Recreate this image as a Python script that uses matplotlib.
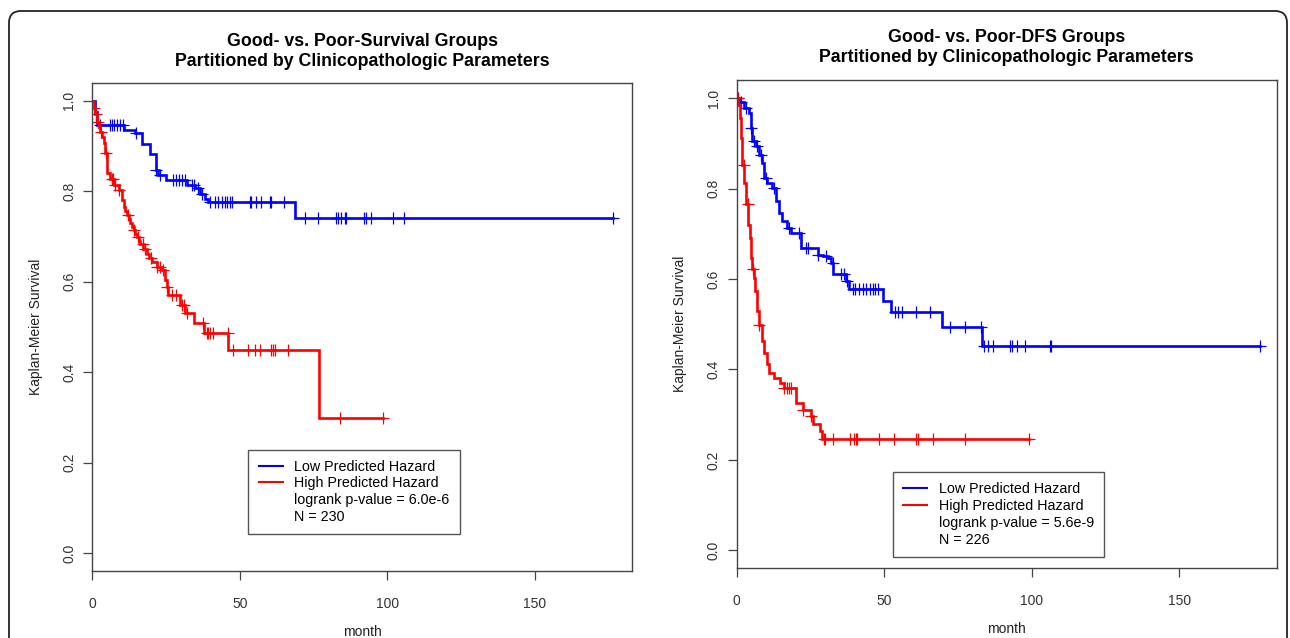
import numpy as np
import matplotlib

matplotlib.use('Agg')
import matplotlib.pyplot as plt
from matplotlib.lines import Line2D
from matplotlib.patches import FancyBboxPatch
from matplotlib.transforms import IdentityTransform

plt.rcParams['font.family'] = ['Liberation Sans', 'DejaVu Sans']

# Overall survival, low predicted hazard
os_low_t = [0.8, 1.5, 10.6, 14.5, 16.8, 19.6, 21.6, 22.4, 25.0, 32.0, 34.8, 36.5, 38.2, 39.3, 68.6]
os_low_s = [0.975, 0.947, 0.936, 0.928, 0.904, 0.882, 0.847, 0.836, 0.826, 0.814, 0.807, 0.795, 0.784, 0.777, 0.740]
os_low_cens = [2.7, 6.1, 6.6, 7.2, 8.3, 9.5, 10.4, 14.8, 21.6, 22.9, 27.4, 28.5, 29.5, 30.5, 31.5, 33.7, 34.5,
               35.8, 37.1, 39.9, 41.6, 42.7, 43.8, 44.9, 45.5, 46.6, 47.2, 53.4, 53.9, 55.6, 57.3, 60.1, 60.7,
               64.9, 72.0, 76.5, 82.7, 83.2, 84.3, 85.5, 86.0, 92.2, 92.8, 94.5, 102.0, 105.7, 176.4]

# Overall survival, high predicted hazard
os_high_t = [0.5, 1.0, 1.6, 2.2, 2.7, 3.3, 3.8, 4.4, 5.0, 6.1, 7.2, 8.9, 10.0, 10.6, 11.2, 11.7, 12.3, 12.8,
             13.4, 14.0, 14.6, 15.1, 15.7, 16.2, 17.3, 18.5, 19.3, 20.2, 21.9, 23.5, 24.7, 25.2, 25.8, 29.7,
             31.4, 34.5, 37.8, 46.0, 76.8]
os_high_s = [0.985, 0.970, 0.954, 0.943, 0.932, 0.919, 0.906, 0.884, 0.840, 0.828, 0.814, 0.803, 0.780, 0.766,
             0.756, 0.747, 0.738, 0.729, 0.721, 0.714, 0.706, 0.699, 0.691, 0.684, 0.673, 0.662, 0.653, 0.644,
             0.633, 0.625, 0.603, 0.588, 0.570, 0.548, 0.531, 0.510, 0.487, 0.449, 0.300]
os_high_cens = [0.5, 1.2, 2.0, 3.0, 4.6, 6.5, 7.0, 7.8, 9.0, 12.0, 14.2, 15.5, 17.0, 18.0, 20.0, 22.0, 23.0,
                24.0, 25.3, 27.0, 28.5, 30.5, 31.0, 32.0, 37.5, 38.7, 39.2, 39.8, 40.9, 45.8, 47.7, 52.8, 55.1,
                56.8, 60.7, 61.3, 61.8, 66.3, 83.8, 98.4]

# Disease-free survival, low predicted hazard
dfs_low_t = [0.8, 2.5, 4.2, 4.8, 5.3, 6.5, 7.6, 8.7, 9.3, 10.4, 12.1, 13.3, 14.4, 15.5, 17.2, 18.4, 21.8,
             27.4, 29.1, 30.9, 32.0, 32.6, 37.1, 38.2, 49.6, 52.2, 69.6, 83.0]
dfs_low_s = [0.992, 0.979, 0.967, 0.934, 0.905, 0.894, 0.875, 0.857, 0.824, 0.813, 0.802, 0.772, 0.746, 0.728,
             0.713, 0.702, 0.669, 0.654, 0.650, 0.647, 0.636, 0.610, 0.595, 0.577, 0.552, 0.527, 0.493, 0.451]
dfs_low_cens = [0.5, 1.4, 3.1, 4.8, 5.9, 7.0, 8.2, 9.9, 12.7, 17.8, 21.2, 23.5, 24.0, 27.4, 30.3, 32.5, 35.4,
                36.5, 37.4, 39.3, 40.1, 41.6, 42.8, 43.9, 45.3, 46.1, 46.9, 47.8, 53.5, 54.7, 56.0, 60.9, 65.4,
                72.2, 77.3, 82.8, 83.9, 85.3, 87.0, 92.6, 93.2, 94.9, 97.7, 106.2, 106.6, 177.2]

# Disease-free survival, high predicted hazard
dfs_high_t = [0.6, 1.1, 1.6, 1.9, 2.5, 3.1, 3.9, 4.5, 5.0, 5.3, 5.7, 6.1, 6.8, 7.6, 8.4, 9.3, 10.2, 11.0,
              12.7, 14.7, 16.1, 20.1, 22.3, 25.2, 25.7, 28.3, 28.8]
dfs_high_s = [0.985, 0.956, 0.912, 0.853, 0.813, 0.765, 0.720, 0.691, 0.647, 0.621, 0.602, 0.573, 0.529, 0.499,
              0.462, 0.437, 0.411, 0.392, 0.381, 0.370, 0.359, 0.326, 0.311, 0.296, 0.279, 0.263, 0.246]
dfs_high_cens = [0.3, 2.3, 3.7, 5.5, 7.6, 16.1, 17.0, 17.8, 18.4, 22.3, 25.2, 29.5, 30.0, 32.5, 38.5, 39.7,
                 40.3, 40.8, 48.2, 53.3, 60.9, 61.5, 66.6, 77.3, 98.9]

titles = ['Good- vs. Poor-Survival Groups\nPartitioned by Clinicopathologic Parameters',
          'Good- vs. Poor-DFS Groups\nPartitioned by Clinicopathologic Parameters']
pvals = ['logrank p-value = 6.0e-6', 'logrank p-value = 5.6e-9']
ns = ['N = 230', 'N = 226']
yticks = [0.0, 0.2, 0.4, 0.6, 0.8, 1.0]
xticks = [0, 50, 100, 150]


def km_curve(ax, times, surv, cens, color):
    t = np.array(times)
    s = np.array(surv)
    end = max(cens)
    x = np.concatenate([[0], t, [end]])
    y = np.concatenate([[1.0], s, [s[-1]]])
    ax.step(x, y, where='post', color=color, lw=1.9, solid_joinstyle='miter')
    c = np.array(cens)
    idx = np.searchsorted(t, c, side='right')
    cy = np.where(idx == 0, 1.0, s[np.maximum(idx - 1, 0)])
    ax.plot(c, cy, ls='none', marker='+', ms=8, mew=0.9, color=color)


fig = plt.figure(figsize=(12.9, 6.38), dpi=100)

frame = FancyBboxPatch((9, -40), 1278, 667, boxstyle='round,pad=0,rounding_size=12',
                       transform=IdentityTransform(), fill=False, ec='#222222', lw=1.3)
fig.add_artist(frame)

positions = [[0.0716, 0.1045, 0.4186, 0.7658], [0.5711, 0.1091, 0.4186, 0.7655]]
data = [(os_low_t, os_low_s, os_low_cens, os_high_t, os_high_s, os_high_cens),
        (dfs_low_t, dfs_low_s, dfs_low_cens, dfs_high_t, dfs_high_s, dfs_high_cens)]
legend_anchor = [(248.5 / 1290, 1 - 449.5 / 638), (893 / 1290, 1 - 472 / 638)]
title_pad = [12, 13]

for i in range(2):
    ax = fig.add_axes(positions[i])
    lt, ls, lc, ht, hs, hc = data[i]
    km_curve(ax, lt, ls, lc, 'blue')
    km_curve(ax, ht, hs, hc, 'red')

    ax.set_xlim(0, 183)
    ax.set_ylim(-0.04, 1.04)
    ax.set_xticks(xticks)
    ax.set_yticks(yticks)
    ax.set_yticklabels(['%.1f' % v for v in yticks], rotation=90, va='center')
    ax.tick_params(direction='out', length=6.5, width=0.9, color='#444444', labelcolor='#333333',
                   labelsize=10)
    ax.tick_params(axis='x', pad=12)
    ax.tick_params(axis='y', pad=5)
    for sp in ax.spines.values():
        sp.set_color('#444444')
        sp.set_linewidth(1.0)

    ax.set_xlabel('month', fontsize=10, color='#222222', labelpad=10)
    ax.set_ylabel('Kaplan-Meier Survival', fontsize=10, color='#222222', labelpad=14)
    ax.set_title(titles[i], fontsize=12.8, fontweight='bold', linespacing=1.2, pad=title_pad[i])

    handles = [Line2D([], [], color='blue', lw=1.5), Line2D([], [], color='red', lw=1.5),
               Line2D([], [], color='none'), Line2D([], [], color='none')]
    labels = ['Low Predicted Hazard', 'High Predicted Hazard', pvals[i], ns[i]]
    leg = ax.legend(handles, labels, loc='upper left', bbox_to_anchor=legend_anchor[i],
                    bbox_transform=fig.transFigure, fontsize=10.3, handlelength=1.7,
                    handletextpad=0.8, labelspacing=0.2, borderpad=0.7, borderaxespad=0,
                    fancybox=False, framealpha=1, edgecolor='#555555')
    leg.get_frame().set_linewidth(1.0)

plt.savefig('out.png', dpi=100)
